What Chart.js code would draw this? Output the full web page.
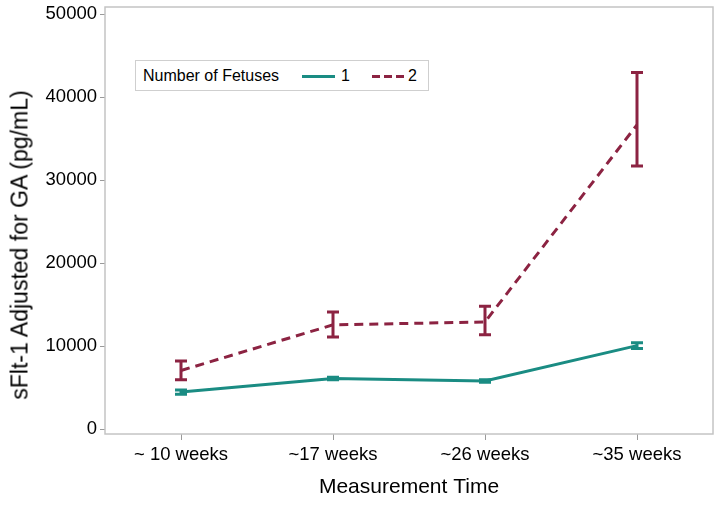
<!DOCTYPE html>
<html>
<head>
<meta charset="utf-8">
<script src="https://cdn.jsdelivr.net/npm/chart.js@4.4.1/dist/chart.umd.min.js"></script>
<style>
  html, body { margin: 0; padding: 0; background: #fff; }
  #wrap { position: relative; width: 721px; height: 507px; }
  #legend {
    position: absolute; left: 135px; top: 60px; width: 294px; height: 31px;
    border: 1px solid #cfcfcf; background: #fff; box-sizing: border-box;
    font-family: "Liberation Sans", Arial, sans-serif; font-size: 16px; color: #000;
  }
  #legend span { position: absolute; top: 6px; }
  .sw { position: absolute; top: 14px; height: 3px; }
  #ytitle {
    position: absolute; left: 20px; top: 245px;
    transform: translate(-50%, -50%) rotate(-90deg);
    white-space: nowrap; line-height: 1;
    font-family: "Liberation Sans", Arial, sans-serif; font-size: 23px; color: #000;
  }
</style>
</head>
<body>
<div id="wrap">
  <canvas id="c" width="721" height="507"></canvas>
  <div id="ytitle">sFlt-1 Adjusted for GA (pg/mL)</div>
  <div id="legend">
    <span style="left:7px">Number of Fetuses</span>
    <div class="sw" style="left:166px;width:33px;background:#1a8c83"></div>
    <span style="left:205px">1</span>
    <div class="sw" style="left:236px;width:32px;background:repeating-linear-gradient(90deg,#8c2342 0 8px,transparent 8px 12px)"></div>
    <span style="left:272px">2</span>
  </div>
</div>
<script>
const categories = ["~ 10 weeks", "~17 weeks", "~26 weeks", "~35 weeks"];
const yTicks = [0, 10000, 20000, 30000, 40000, 50000];

const oneMean  = [4450, 6100, 5800, 10050];
const oneLower = [4200, 5950, 5650, 9700];
const oneUpper = [4700, 6250, 5950, 10400];

const twoMean  = [7050, 12550, 12900, 36650];
const twoLower = [5950, 11100, 11350, 31700];
const twoUpper = [8200, 14100, 14800, 42950];

const TEAL = '#1a8c83';
const MAROON = '#8c2342';
const FONT = '"Liberation Sans", Arial, sans-serif';

const errorBars = {
  id: 'errorBars',
  afterDatasetsDraw(chart) {
    const ctx = chart.ctx;
    const x = chart.scales.x, y = chart.scales.y;
    chart.data.datasets.forEach((ds) => {
      ctx.save();
      ctx.strokeStyle = ds.borderColor;
      ctx.lineWidth = 3;
      ctx.setLineDash([]);
      ds.lower.forEach((lo, i) => {
        const px = x.getPixelForValue(i);
        const pl = y.getPixelForValue(lo);
        const pu = y.getPixelForValue(ds.upper[i]);
        const half = 6;
        ctx.beginPath();
        ctx.moveTo(px, pl); ctx.lineTo(px, pu);
        ctx.moveTo(px - half, pl); ctx.lineTo(px + half, pl);
        ctx.moveTo(px - half, pu); ctx.lineTo(px + half, pu);
        ctx.stroke();
      });
      ctx.restore();
    });
  }
};

const frame = {
  id: 'frame',
  afterDraw(chart) {
    const a = chart.chartArea, ctx = chart.ctx;
    ctx.save();
    ctx.strokeStyle = '#c4c4c4';
    ctx.lineWidth = 1.5;
    ctx.strokeRect(a.left, a.top, a.right - a.left, a.bottom - a.top);
    ctx.restore();
  }
};

new Chart(document.getElementById('c'), {
  type: 'line',
  data: {
    labels: categories,
    datasets: [
      { label: '1', data: oneMean, lower: oneLower, upper: oneUpper,
        borderColor: TEAL, backgroundColor: TEAL, borderWidth: 3,
        pointRadius: 0, tension: 0 },
      { label: '2', data: twoMean, lower: twoLower, upper: twoUpper,
        borderColor: MAROON, backgroundColor: MAROON, borderWidth: 3,
        borderDash: [9, 6], pointRadius: 0, tension: 0 }
    ]
  },
  options: {
    responsive: false,
    animation: false,
    devicePixelRatio: 1,
    layout: { padding: { top: 7, right: 8, left: 0, bottom: 0 } },
    plugins: { legend: { display: false }, tooltip: { enabled: false } },
    scales: {
      x: {
        type: 'category',
        offset: true,
        grid: { display: true, drawOnChartArea: false, drawTicks: true, tickLength: 6, color: '#9a9a9a', offset: false },
        border: { display: false },
        ticks: { color: '#000', padding: 4, font: { family: FONT, size: 18.5 }, maxRotation: 0 },
        title: { display: true, text: 'Measurement Time', color: '#000', padding: { top: 0, bottom: 7 },
                 font: { family: FONT, size: 21 } },
        afterFit(s) { s.height = 73; s.paddingLeft = 0; s.paddingRight = 0; }
      },
      y: {
        min: -600, max: 50850,
        afterBuildTicks(s) { s.ticks = yTicks.map(v => ({ value: v })); },
        grid: { display: true, drawOnChartArea: false, drawTicks: true, tickLength: 5, color: '#9a9a9a' },
        border: { display: false },
        ticks: { color: '#000', padding: 3, font: { family: FONT, size: 18.5 },
                 callback: (v) => String(v) },
        title: { display: false },
        afterFit(s) { s.width = 105; s.paddingTop = 0; s.paddingBottom = 0; }
      }
    }
  },
  plugins: [errorBars, frame]
});
</script>
</body>
</html>
